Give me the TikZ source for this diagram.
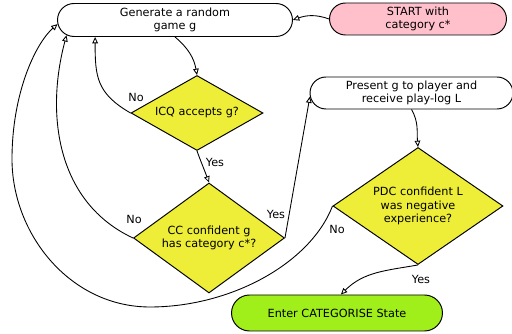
\documentclass[tikz,border=0pt]{standalone}
\usepackage{fontspec}
\setmainfont{DejaVu Sans}
\usetikzlibrary{positioning,shapes.geometric,shapes.misc,arrows.meta}
\definecolor{decide}{HTML}{EEEE38}
\definecolor{startpink}{HTML}{FFC0CB}
\definecolor{endgreen}{HTML}{A0EE1A}

\begin{document}
\begin{tikzpicture}[x=0.02cm, y=0.02cm,
    every node/.style={font=\fontsize{6.4}{7.7}\selectfont},
    proc/.style={rounded rectangle, draw, line width=0.55pt, align=center, inner sep=0pt},
    test/.style={diamond, draw, fill=decide, line width=0.55pt, align=center, inner sep=0pt},
    flow/.style={-{Triangle[open, length=3.6pt, width=3.2pt]}, line width=0.5pt}]
    \useasboundingbox (0,0) rectangle (512,334);

    % Start and generation
    \node[proc, fill=startpink, minimum width=3.54cm, minimum height=0.64cm] (start) at (418,315) {START with\\category c*};
    \node[proc, minimum width=4.7cm, minimum height=0.66cm] (gen) at (175,314) {Generate a random\\game g};

    % Decisions
    \node[test, aspect=1.76, minimum width=2.64cm, minimum height=1.5cm] (icq) at (197,221) {ICQ accepts g?};
    \node[test, aspect=1.37, minimum width=3.02cm, minimum height=2.2cm] (cc) at (209,96) {CC confident g\\has category c*?};
    \node[test, aspect=1.45, minimum width=3.4cm, minimum height=2.34cm] (pdc) at (418,128) {PDC confident L\\was negative\\experience?};

    % Play and end
    \node[proc, minimum width=4.06cm, minimum height=0.64cm] (present) at (411.5,241) {Present g to player and\\receive play-log L};
    \node[proc, fill=endgreen, minimum width=4.22cm, minimum height=0.72cm] (enter) at (337,21) {Enter CATEGORISE State};

    % Connectors
    \draw[flow] (start.west) to[out=160, in=20] (gen.east);
    \draw[flow] (gen.south) to[out=-40, in=100] (icq.north);
    \draw[flow] (icq.west) to[out=150, in=-90, looseness=1.2] (gen.192);
    \draw[flow] (icq.south) to[out=-70, in=110] (cc.north);
    \draw[flow] (cc.west) to[out=155, in=-105] (gen.188);
    \draw[flow] (cc.east) to[out=80, in=-100] (present.182);
    \draw[flow] (present.south) to[out=-60, in=95] (pdc.north);
    \draw[flow] (pdc.west) .. controls (310,70) and (230,27) .. (150,27)
        .. controls (70,27) and (12,100) .. (12,175)
        .. controls (12,240) and (35,290) .. (gen.182);
    \draw[flow] (pdc.south) to[out=190, in=45] (enter.78);

    % Labels
    \node (noicq) at (136,237) {No};
    \node (yesicq) at (215,172) {Yes};
    \node (nocc) at (134,115) {No};
    \node (yescc) at (276,120) {Yes};
    \node (nopdc) at (337,105) {No};
    \node (yespdc) at (421,55) {Yes};
\end{tikzpicture}
\end{document}
